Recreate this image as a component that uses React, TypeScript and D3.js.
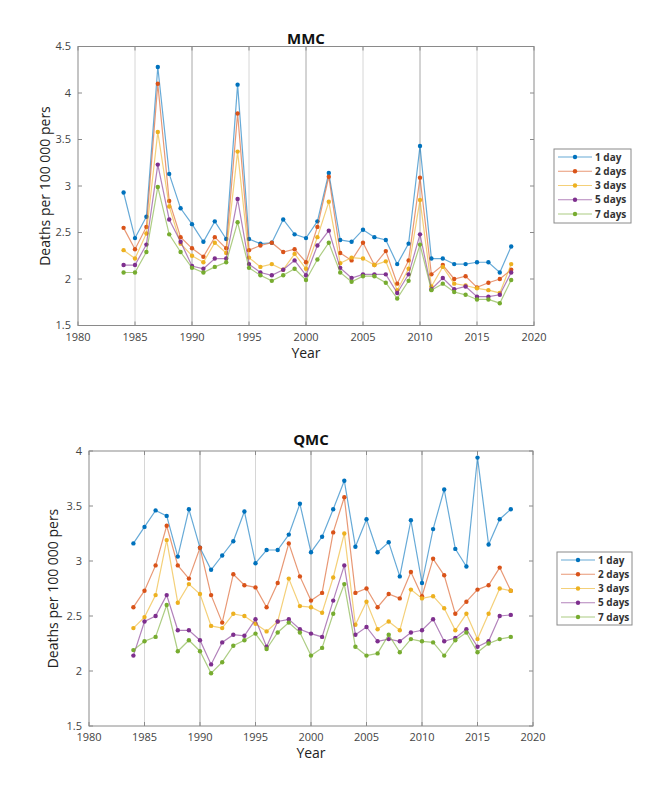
import React from "react";
import * as d3 from "d3";

const years = d3.range(1984, 2019);
const seriesNames = ["1 day", "2 days", "3 days", "5 days", "7 days"];
const colors = ["#0072BD", "#D95319", "#EDB120", "#7E2F8E", "#77AC30"];
const xTicks = [1980, 1985, 1990, 1995, 2000, 2005, 2010, 2015, 2020];
const mmcYTicks = [1.5, 2, 2.5, 3, 3.5, 4, 4.5];
const qmcYTicks = [1.5, 2, 2.5, 3, 3.5, 4];

const mmc1 = [2.93, 2.44, 2.67, 4.28, 3.13, 2.76, 2.59, 2.40, 2.62, 2.43, 4.09, 2.43, 2.38, 2.39, 2.64, 2.48, 2.44, 2.62, 3.14, 2.42, 2.40, 2.53, 2.45, 2.42, 2.16, 2.38, 3.43, 2.22, 2.22, 2.16, 2.16, 2.18, 2.18, 2.07, 2.35];
const mmc2 = [2.55, 2.32, 2.56, 4.10, 2.84, 2.45, 2.33, 2.24, 2.45, 2.33, 3.78, 2.31, 2.36, 2.39, 2.29, 2.32, 2.18, 2.56, 3.10, 2.28, 2.20, 2.39, 2.15, 2.30, 1.95, 2.20, 3.09, 2.05, 2.15, 2.00, 2.03, 1.91, 1.96, 2.00, 2.10];
const mmc3 = [2.31, 2.22, 2.49, 3.58, 2.78, 2.38, 2.25, 2.18, 2.39, 2.28, 3.37, 2.23, 2.13, 2.16, 2.10, 2.27, 2.11, 2.45, 2.83, 2.17, 2.23, 2.22, 2.15, 2.19, 1.88, 2.11, 2.85, 1.92, 2.13, 1.95, 1.93, 1.90, 1.88, 1.85, 2.16];
const mmc5 = [2.15, 2.15, 2.37, 3.23, 2.64, 2.40, 2.14, 2.11, 2.22, 2.22, 2.86, 2.16, 2.07, 2.04, 2.10, 2.20, 2.04, 2.36, 2.52, 2.12, 2.01, 2.05, 2.05, 2.05, 1.85, 2.05, 2.48, 1.89, 2.01, 1.89, 1.92, 1.81, 1.81, 1.83, 2.07];
const mmc7 = [2.07, 2.07, 2.29, 2.99, 2.48, 2.29, 2.12, 2.07, 2.13, 2.18, 2.61, 2.12, 2.04, 1.98, 2.04, 2.11, 1.99, 2.21, 2.39, 2.07, 1.97, 2.03, 2.03, 1.96, 1.79, 1.98, 2.37, 1.88, 1.95, 1.86, 1.83, 1.78, 1.78, 1.74, 1.99];

const qmc1 = [3.16, 3.31, 3.46, 3.41, 3.04, 3.47, 3.12, 2.92, 3.05, 3.18, 3.45, 2.98, 3.10, 3.10, 3.24, 3.52, 3.08, 3.22, 3.47, 3.73, 3.13, 3.38, 3.08, 3.17, 2.86, 3.37, 2.80, 3.29, 3.65, 3.11, 2.95, 3.94, 3.15, 3.38, 3.47];
const qmc2 = [2.58, 2.73, 2.96, 3.32, 2.96, 2.84, 3.12, 2.69, 2.44, 2.88, 2.78, 2.76, 2.58, 2.80, 3.16, 2.86, 2.64, 2.71, 3.26, 3.58, 2.71, 2.75, 2.58, 2.70, 2.66, 2.90, 2.68, 3.02, 2.87, 2.52, 2.63, 2.74, 2.78, 2.94, 2.73];
const qmc3 = [2.39, 2.49, 2.69, 3.19, 2.62, 2.79, 2.70, 2.41, 2.39, 2.52, 2.50, 2.43, 2.36, 2.45, 2.84, 2.59, 2.58, 2.53, 2.85, 3.25, 2.42, 2.63, 2.38, 2.45, 2.37, 2.74, 2.66, 2.68, 2.57, 2.37, 2.52, 2.29, 2.52, 2.75, 2.73];
const qmc5 = [2.14, 2.45, 2.50, 2.69, 2.37, 2.37, 2.28, 2.06, 2.26, 2.33, 2.32, 2.47, 2.22, 2.45, 2.47, 2.38, 2.34, 2.31, 2.64, 2.96, 2.33, 2.40, 2.27, 2.29, 2.27, 2.35, 2.37, 2.47, 2.27, 2.30, 2.38, 2.22, 2.27, 2.50, 2.51];
const qmc7 = [2.19, 2.27, 2.31, 2.60, 2.18, 2.28, 2.18, 1.98, 2.08, 2.23, 2.28, 2.34, 2.20, 2.35, 2.44, 2.35, 2.14, 2.21, 2.52, 2.79, 2.22, 2.14, 2.16, 2.33, 2.17, 2.29, 2.27, 2.26, 2.14, 2.28, 2.35, 2.17, 2.25, 2.29, 2.31];

const FONT = "'Open Sans', 'Noto Sans', sans-serif";

type ChartProps = {
  title: string;
  series: number[][];
  yTicks: number[];
  x0: number; x1: number; y0: number; y1: number;
  titleY: number;
  yLabelX: number;
  legend: { x: number; y: number; w: number; h: number };
};

function Chart({ title, series, yTicks, x0, x1, y0, y1, titleY, yLabelX, legend }: ChartProps) {
  const x = d3.scaleLinear().domain([1980, 2020]).range([x0, x1]);
  const y = d3.scaleLinear().domain([yTicks[0], yTicks[yTicks.length - 1]]).range([y1, y0]);
  const line = d3.line<number>().x((_, i) => x(years[i])).y((d) => y(d));
  const cx = (x0 + x1) / 2;
  const axisColor = "#8a8a8a";
  const rowH = 14.25;
  return (
    <g>
      <rect x={x0} y={y0} width={x1 - x0} height={y1 - y0} fill="#fff" />
      {xTicks.slice(1, -1).map((t) => (
        <line key={"g" + t} x1={x(t)} x2={x(t)} y1={y0} y2={y1}
          stroke={t % 10 === 0 ? "#a8a8a8" : "#d6d6d6"} strokeWidth={1} />
      ))}
      {series.map((s, k) => (
        <g key={"s" + k}>
          <path d={line(s) || ""} fill="none" stroke={colors[k]} strokeOpacity={0.6} strokeWidth={1.2} />
          {s.map((v, i) => (
            <circle key={i} cx={x(years[i])} cy={y(v)} r={2.2} fill={colors[k]} />
          ))}
        </g>
      ))}
      <rect x={x0} y={y0} width={x1 - x0} height={y1 - y0} fill="none" stroke={axisColor} strokeWidth={1} />
      {xTicks.map((t) => (
        <g key={"xt" + t}>
          <line x1={x(t)} x2={x(t)} y1={y1} y2={y1 - 4} stroke={axisColor} />
          <line x1={x(t)} x2={x(t)} y1={y0} y2={y0 + 4} stroke={axisColor} />
          <text x={x(t)} y={y1 + 15} textAnchor="middle" fontSize={11} fill="#444" fontFamily={FONT}>{t}</text>
        </g>
      ))}
      {yTicks.map((t) => (
        <g key={"yt" + t}>
          <line x1={x0} x2={x0 + 4} y1={y(t)} y2={y(t)} stroke={axisColor} />
          <line x1={x1} x2={x1 - 4} y1={y(t)} y2={y(t)} stroke={axisColor} />
          <text x={x0 - 7} y={y(t) + 3.5} textAnchor="end" fontSize={11} fill="#444" fontFamily={FONT}>{t}</text>
        </g>
      ))}
      <text x={cx} y={titleY} textAnchor="middle" fontSize={15} fontWeight="bold" fill="#111" fontFamily={FONT}>{title}</text>
      <text x={cx} y={y1 + 32} textAnchor="middle" fontSize={14} fill="#222" fontFamily={FONT}>Year</text>
      <text transform={`translate(${yLabelX},${(y0 + y1) / 2}) rotate(-90)`} textAnchor="middle" fontSize={14} fill="#222" fontFamily={FONT}>
        Deaths per 100 000 pers
      </text>
      <rect x={legend.x} y={legend.y} width={legend.w} height={legend.h} fill="#fff" stroke="#8a8a8a" strokeWidth={1} />
      {seriesNames.map((n, k) => {
        const ly = legend.y + 8 + rowH * k;
        return (
          <g key={"l" + k}>
            <line x1={legend.x + 4} x2={legend.x + 38} y1={ly} y2={ly} stroke={colors[k]} strokeOpacity={0.6} strokeWidth={1.2} />
            <circle cx={legend.x + 21} cy={ly} r={2.2} fill={colors[k]} />
            <text x={legend.x + 41} y={ly + 3.5} fontSize={10} fontWeight="bold" fill="#333" fontFamily={FONT}>{n}</text>
          </g>
        );
      })}
    </g>
  );
}

export default function App() {
  return (
    <svg width={662} height={795} style={{ display: "block", position: "absolute", left: 0, top: 0 }}>
      <rect width={662} height={795} fill="#fff" />
      <Chart title="MMC" series={[mmc1, mmc2, mmc3, mmc5, mmc7]} yTicks={mmcYTicks}
        x0={78} x1={534} y0={46.5} y1={325.5} titleY={44} yLabelX={50}
        legend={{ x: 554, y: 149, w: 77, h: 74 }} />
      <Chart title="QMC" series={[qmc1, qmc2, qmc3, qmc5, qmc7]} yTicks={qmcYTicks}
        x0={89} x1={533} y0={451} y1={726} titleY={445} yLabelX={58}
        legend={{ x: 557, y: 552, w: 75, h: 73 }} />
    </svg>
  );
}
